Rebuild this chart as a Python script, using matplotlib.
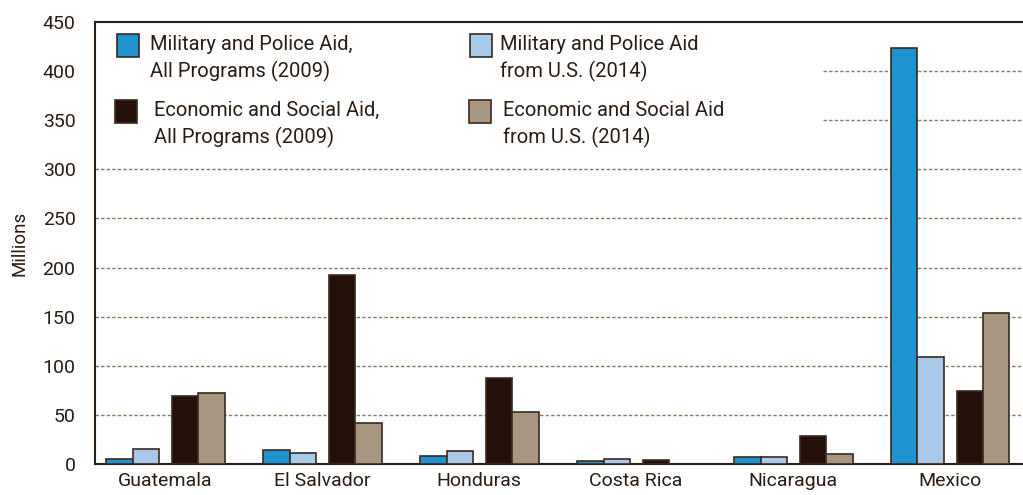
import numpy as np
import matplotlib.pyplot as plt
from matplotlib.patches import Rectangle

plt.rcParams['font.family'] = ['Roboto', 'DejaVu Sans']

countries = ["Guatemala", "El Salvador", "Honduras", "Costa Rica", "Nicaragua", "Mexico"]
mil_all_2009 = [5, 14, 8, 3, 7, 424]
mil_us_2014 = [15, 11, 13, 5, 7, 109]
econ_all_2009 = [69, 192, 88, 4, 29, 74]
econ_us_2014 = [72, 42, 53, 0, 10, 154]

series = [
    (mil_all_2009, "#1f93d0", "Military and Police Aid,\nAll Programs (2009)"),
    (mil_us_2014, "#a9c9ea", "Military and Police Aid\nfrom U.S. (2014)"),
    (econ_all_2009, "#241008", "Economic and Social Aid,\nAll Programs (2009)"),
    (econ_us_2014, "#a89680", "Economic and Social Aid\nfrom U.S. (2014)"),
]
offsets = [-0.29, -0.124, 0.13, 0.296]
width = 0.166

txt = "#2b1d14"
edge = "#3a2a20"
grid_c = "#8c7c64"

W, H = 1023, 495
fig = plt.figure(figsize=(W / 100, H / 100), dpi=100)
ax = fig.add_axes([95 / W, 1 - 464 / H, 1 - 95 / W, (464 - 22) / H])

x = np.arange(len(countries))
for (vals, col, lab), off in zip(series, offsets):
    v = np.array(vals, dtype=float)
    mask = v > 0
    ax.bar(x[mask] + off, v[mask], width=width, color=col, edgecolor=edge,
           linewidth=1.2, zorder=3)

ax.set_xlim(-0.446, 5.465)
ax.set_ylim(0, 450)
ax.set_yticks(np.arange(0, 451, 50))
ax.set_xticks(x)
ax.set_xticklabels(countries)
ax.tick_params(length=0, colors=txt)
ax.tick_params(axis='x', labelsize=14, pad=6)
ax.tick_params(axis='y', labelsize=14, pad=14)

# dashed grid lines; upper two hidden behind the legend area
for yv in range(50, 301, 50):
    ax.axhline(yv, color=grid_c, lw=1, ls=(0, (2.5, 1.5)), zorder=1)
for yv in (350, 400):
    ax.hlines(yv, 4.19, 5.465, color=grid_c, lw=1, ls=(0, (2.5, 1.5)), zorder=1)

for s in ("left", "bottom", "top"):
    ax.spines[s].set_color(txt)
    ax.spines[s].set_linewidth(1.5)
ax.spines["right"].set_visible(False)

ax.set_ylabel("Millions", fontsize=13.5, color=txt, labelpad=10)

# legend drawn by hand
def fx(px):
    return px / W

def fy(py):
    return 1 - py / H

legend_items = [
    (series[0], 117, 34, 150),
    (series[2], 115, 100, 154),
    (series[1], 470, 34, 500),
    (series[3], 469, 100, 503),
]
for (vals, col, lab), sx, sy, tx in legend_items:
    fig.patches.append(Rectangle((fx(sx), fy(sy + 23)), 22 / W, 23 / H,
                                 transform=fig.transFigure, facecolor=col,
                                 edgecolor=edge, linewidth=1.2))
    fig.text(fx(tx), fy(sy + 1), lab, fontsize=14.5, color=txt, va="top",
             ha="left", linespacing=1.45)

fig.savefig("out.png", dpi=100)
